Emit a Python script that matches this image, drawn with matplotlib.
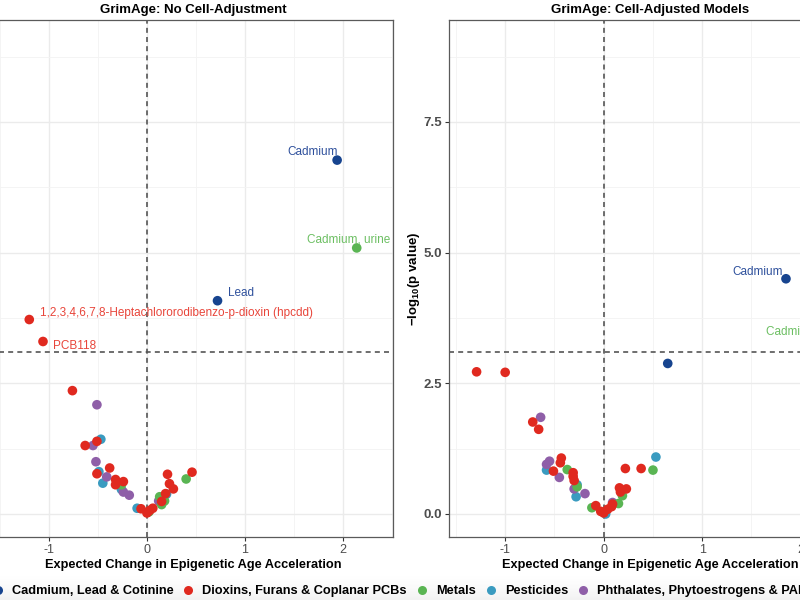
import numpy as np
import matplotlib
matplotlib.use("Agg")
import matplotlib.pyplot as plt
from matplotlib.lines import Line2D
from matplotlib.ticker import MultipleLocator, FormatStrFormatter

plt.rcParams['font.family'] = ['Liberation Sans', 'DejaVu Sans']
plt.rcParams['mathtext.fontset'] = 'custom'
plt.rcParams['mathtext.bf'] = 'Liberation Sans:bold'
plt.rcParams['mathtext.rm'] = 'Liberation Sans'
plt.rcParams['axes.unicode_minus'] = False

groups = ["Cadmium, Lead & Cotinine", "Dioxins, Furans & Coplanar PCBs",
          "Metals", "Pesticides", "Phthalates, Phytoestrogens & PAHs"]
colors = ["#17448f", "#e0291f", "#5ab553", "#3a9bc0", "#8f5fa8"]
label_colors = ["#2e509c", "#e8453a", "#6cbf62", "#3a9bc0", "#8f5fa8"]

bonferroni_line = -np.log10(0.05 / 63)

# ---- GrimAge: No Cell-Adjustment ----
noadj_cadmium_x = [1.94, 0.72]
noadj_cadmium_y = [6.77, 4.08]
noadj_dioxins_x = [-1.20, -1.06, -0.76, -0.63, -0.51, -0.51, -0.38, -0.32, -0.32, -0.24,
                   -0.06, 0.00, 0.03, 0.06, 0.01, 0.15, 0.19, 0.21, 0.23, 0.27, 0.46]
noadj_dioxins_y = [3.72, 3.30, 2.36, 1.31, 1.39, 0.77, 0.88, 0.66, 0.56, 0.62,
                   0.10, 0.02, 0.07, 0.11, 0.04, 0.24, 0.39, 0.76, 0.58, 0.48, 0.80]
noadj_metals_x = [2.14, -0.26, 0.02, 0.15, 0.13, 0.18, 0.40]
noadj_metals_y = [5.09, 0.56, 0.04, 0.18, 0.33, 0.25, 0.67]
noadj_pest_x = [-0.47, -0.49, -0.45, -0.26, -0.10, 0.20]
noadj_pest_y = [1.43, 0.81, 0.59, 0.47, 0.11, 0.38]
noadj_phth_x = [-0.51, -0.55, -0.52, -0.41, -0.24, -0.18, 0.12]
noadj_phth_y = [2.09, 1.31, 1.00, 0.71, 0.42, 0.36, 0.25]

# ---- GrimAge: Cell-Adjusted Models ----
adj_cadmium_x = [1.85, 0.65]
adj_cadmium_y = [4.50, 2.88]
adj_dioxins_x = [-1.29, -1.00, -0.72, -0.66, -0.51, -0.43, -0.44, -0.31, -0.31, -0.30,
                 -0.08, -0.03, 0.00, 0.04, 0.08, 0.09, 0.16, 0.23, 0.17, 0.22, 0.38]
adj_dioxins_y = [2.72, 2.71, 1.76, 1.62, 0.82, 1.07, 0.98, 0.79, 0.72, 0.64,
                 0.16, 0.05, 0.02, 0.09, 0.14, 0.19, 0.50, 0.48, 0.42, 0.87, 0.87]
adj_metals_x = [2.15, -0.37, -0.27, -0.12, 0.15, 0.19, 0.50]
adj_metals_y = [3.34, 0.85, 0.52, 0.12, 0.20, 0.35, 0.84]
adj_pest_x = [-0.58, -0.27, -0.28, 0.02, 0.53]
adj_pest_y = [0.84, 0.56, 0.33, 0.00, 1.09]
adj_phth_x = [-0.64, -0.58, -0.55, -0.45, -0.30, -0.19, 0.09]
adj_phth_y = [1.85, 0.95, 1.01, 0.70, 0.48, 0.39, 0.22]

# labels: (text, group index, x, y, dx, dy, ha)  offsets in points
noadj_labels = [
    ("Cadmium", 0, 1.94, 6.77, 0.7, 5.8, "right"),
    ("Cadmium, urine", 2, 2.14, 5.09, -5.8, 5.8, "center"),
    ("Lead", 0, 0.72, 4.08, 7.9, 5.8, "left"),
    ("1,2,3,4,6,7,8-Heptachlororodibenzo-p-dioxin (hpcdd)", 1, -1.20, 3.72, 7.9, 5.0, "left"),
    ("PCB118", 1, -1.06, 3.30, 7.2, -3.6, "left"),
]
adj_labels = [
    ("Cadmium", 0, 1.85, 4.50, -2.2, 5.0, "right"),
    ("Cadmium, urine", 2, 2.15, 3.34, -5.8, 5.8, "center"),
]

fig = plt.figure(figsize=(8, 6), dpi=100)

# soft grey band under the legend
bg = fig.add_axes([0, 0, 1, 0.045], zorder=-5)
grad = np.linspace(0, 1, 50).reshape(-1, 1) ** 1.5
bg.imshow(grad, aspect="auto", cmap="Greys", vmin=0, vmax=9, extent=[0, 1, 1, 0])
bg.axis("off")

ax1 = fig.add_axes([-7 / 800, 63 / 600, 400 / 800, 517 / 600])
ax2 = fig.add_axes([449 / 800, 63 / 600, 402 / 800, 517 / 600])


def draw_panel(ax, title, xs, ys, labels, show_y=True):
    ax.set_xlim(-1.57, 2.51)
    ax.set_ylim(-0.44, 9.45)
    ax.xaxis.set_major_locator(MultipleLocator(1))
    ax.xaxis.set_minor_locator(MultipleLocator(0.5))
    ax.yaxis.set_major_locator(MultipleLocator(2.5))
    ax.yaxis.set_minor_locator(MultipleLocator(1.25))
    ax.grid(which="major", color="#ebebeb", lw=1.0)
    ax.grid(which="minor", color="#f3f3f3", lw=0.6)
    ax.set_axisbelow(True)
    for s in ax.spines.values():
        s.set_color("#5a5a5a")
        s.set_linewidth(0.9)
    ax.tick_params(which="minor", length=0)
    ax.tick_params(which="major", length=3, width=0.8, color="#333333")
    ax.tick_params(axis="x", labelsize=9, labelcolor="#4d4d4d", pad=2)
    ax.tick_params(axis="y", labelsize=9.5, labelcolor="#4d4d4d", pad=2)
    ax.yaxis.set_major_formatter(FormatStrFormatter("%.1f"))
    for t in ax.get_yticklabels():
        t.set_fontweight("bold")

    ax.axhline(bonferroni_line, color="#555555", lw=1.2, ls=(0, (3, 2.5)), zorder=1)
    ax.axvline(0, color="#555555", lw=1.2, ls=(0, (3, 2.5)), zorder=1)

    order = [3, 4, 2, 1, 0]
    for i in order:
        ax.scatter(xs[i], ys[i], s=48, color=colors[i], edgecolors="none", zorder=3)

    for text, g, x, y, dx, dy, ha in labels:
        ax.annotate(text, (x, y), xytext=(dx, dy), textcoords="offset points",
                    ha=ha, va="center", fontsize=8.5, color=label_colors[g],
                    zorder=4, annotation_clip=False)

    ax.set_title(title, fontsize=9.5, fontweight="bold", pad=5)
    ax.set_xlabel("Expected Change in Epigenetic Age Acceleration",
                  fontsize=9.2, fontweight="bold", labelpad=2)
    if show_y:
        ax.set_ylabel(r"$\mathbf{-log_{10}}$" + "(p value)", fontsize=9.5, fontweight="bold")
        ax.yaxis.set_label_coords(-0.068, 0.5)
    else:
        # this panel's y axis text lies beyond the left edge of the crop
        ax.tick_params(axis="y", labelleft=False)


draw_panel(ax1, "GrimAge: No Cell-Adjustment",
           [noadj_cadmium_x, noadj_dioxins_x, noadj_metals_x, noadj_pest_x, noadj_phth_x],
           [noadj_cadmium_y, noadj_dioxins_y, noadj_metals_y, noadj_pest_y, noadj_phth_y],
           noadj_labels, show_y=False)
draw_panel(ax2, "GrimAge: Cell-Adjusted Models",
           [adj_cadmium_x, adj_dioxins_x, adj_metals_x, adj_pest_x, adj_phth_x],
           [adj_cadmium_y, adj_dioxins_y, adj_metals_y, adj_pest_y, adj_phth_y],
           adj_labels)

handles = [Line2D([], [], marker="o", ls="none", color=c, markersize=6.5, markeredgewidth=0)
           for c in colors]
fig.legend(handles, groups, loc="center left", bbox_to_anchor=(-7.6 / 800, 9 / 600),
           ncol=5, frameon=False, borderpad=0, borderaxespad=0,
           handlelength=0.8, handletextpad=0.7, columnspacing=0.78,
           prop={"size": 9.2, "weight": "bold"})

fig.savefig("out.png", dpi=100)
